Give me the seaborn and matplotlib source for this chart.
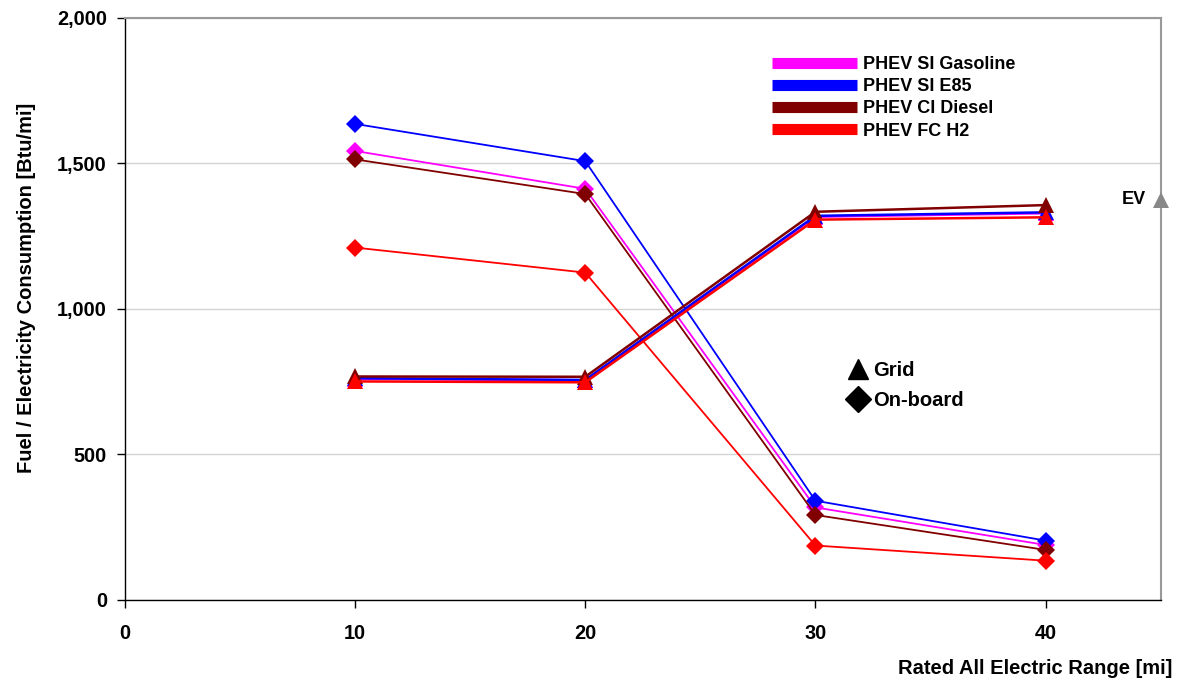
import pandas as pd
import matplotlib
matplotlib.use("Agg")
import matplotlib.pyplot as plt
import seaborn as sns
from matplotlib.lines import Line2D
from matplotlib.ticker import FuncFormatter

# rated all-electric range [mi]
ranges = [10, 20, 30, 40]
fuels = ["PHEV SI Gasoline", "PHEV SI E85", "PHEV CI Diesel", "PHEV FC H2"]

# on-board fuel consumption [Btu/mi]
onboard_gasoline = [1543, 1413, 318, 189]
onboard_e85 = [1636, 1508, 341, 204]
onboard_diesel = [1514, 1395, 292, 172]
onboard_h2 = [1211, 1125, 187, 135]

# grid electricity consumption [Btu/mi]
grid_gasoline = [760, 755, 1317, 1329]
grid_e85 = [762, 756, 1320, 1332]
grid_diesel = [768, 767, 1334, 1357]
grid_h2 = [751, 748, 1307, 1315]

ev_range = 45
ev_value = 1375

colors = ["#ff00ff", "#0000ff", "#800000", "#ff0000"]

onboard = [onboard_gasoline, onboard_e85, onboard_diesel, onboard_h2]
grid = [grid_gasoline, grid_e85, grid_diesel, grid_h2]

rows = []
for fuel, ob, gr in zip(fuels, onboard, grid):
    for r, v in zip(ranges, ob):
        rows.append({"range": r, "value": v, "fuel": fuel, "mode": "On-board"})
    for r, v in zip(ranges, gr):
        rows.append({"range": r, "value": v, "fuel": fuel, "mode": "Grid"})
df = pd.DataFrame(rows)

sns.set_style("white")
plt.rcParams["font.family"] = ["Liberation Sans", "DejaVu Sans"]
plt.rcParams["font.weight"] = "bold"
plt.rcParams["text.color"] = "black"
plt.rcParams["axes.labelcolor"] = "black"
plt.rcParams["xtick.color"] = "black"
plt.rcParams["ytick.color"] = "black"

fig = plt.figure(figsize=(11.81, 6.81), dpi=100)
ax = fig.add_axes([0.1058, 0.119, 0.877, 0.8546])

palette = dict(zip(fuels, colors))
for fuel in fuels:
    sub = df[(df["fuel"] == fuel) & (df["mode"] == "On-board")]
    sns.lineplot(data=sub, x="range", y="value", color=palette[fuel], marker="D",
                 markersize=9, markeredgewidth=0, linewidth=1.3, ax=ax, legend=False)
for fuel in fuels:
    sub = df[(df["fuel"] == fuel) & (df["mode"] == "Grid")]
    sns.lineplot(data=sub, x="range", y="value", color=palette[fuel], marker="^",
                 markersize=11, markeredgewidth=0, linewidth=1.8, ax=ax, legend=False)

# EV point on right edge
ax.plot([ev_range], [ev_value], marker="^", color="#888888", markersize=11,
        markeredgewidth=0, clip_on=False, zorder=5)
ax.annotate("EV", (ev_range, ev_value), xytext=(-11, 0), textcoords="offset points",
            ha="right", va="center", fontsize=13, fontweight="bold", color="black")

ax.set_xlim(0, 45)
ax.set_ylim(0, 2000)
ax.set_xticks([0, 10, 20, 30, 40])
ax.set_yticks([0, 500, 1000, 1500, 2000])
ax.yaxis.set_major_formatter(FuncFormatter(lambda v, p: f"{int(v):,}"))
ax.tick_params(axis="both", direction="out", length=6, width=1, labelsize=14.3,
               left=True, bottom=True, color="black", labelcolor="black")
ax.tick_params(axis="x", pad=11)
ax.tick_params(axis="y", pad=7)
for lab in ax.get_xticklabels() + ax.get_yticklabels():
    lab.set_fontweight("bold")
ax.yaxis.grid(True, color="#d4d4d4", linewidth=1)
ax.set_axisbelow(True)

for s in ["left", "bottom"]:
    ax.spines[s].set_color("black")
    ax.spines[s].set_linewidth(1)
for s in ["top", "right"]:
    ax.spines[s].set_color("#999999")
    ax.spines[s].set_linewidth(1.5)

ax.set_xlabel("Rated All Electric Range [mi]", fontsize=14.5, fontweight="bold", color="black")
ax.xaxis.set_label_coords(1.011, -0.117)
ax.xaxis.label.set_horizontalalignment("right")
ax.xaxis.label.set_verticalalignment("center")
ax.set_ylabel("Fuel / Electricity Consumption [Btu/mi]", fontsize=14.5, fontweight="bold",
              color="black")
ax.yaxis.set_label_coords(-0.0946, 0.537)
ax.yaxis.label.set_verticalalignment("center")

# fuel legend
fuel_handles = [Line2D([0], [0], color=c, linewidth=8, solid_capstyle="butt") for c in colors]
leg1 = ax.legend(fuel_handles, fuels, loc="upper left", bbox_to_anchor=(0.609, 0.962),
                 frameon=False, handlelength=4.7, handletextpad=0.35, labelspacing=0.28,
                 prop={"weight": "bold", "size": 13}, labelcolor="black")
ax.add_artist(leg1)

# marker legend
mode_handles = [Line2D([0], [0], color="black", marker="^", linestyle="none", markersize=15),
                Line2D([0], [0], color="black", marker="D", linestyle="none", markersize=13)]
ax.legend(mode_handles, ["Grid", "On-board"], loc="upper left", bbox_to_anchor=(0.682, 0.442),
          frameon=False, handlelength=0.8, handletextpad=0.4, labelspacing=0.55,
          prop={"weight": "bold", "size": 14.5}, labelcolor="black")

fig.savefig("out.png", dpi=100)
